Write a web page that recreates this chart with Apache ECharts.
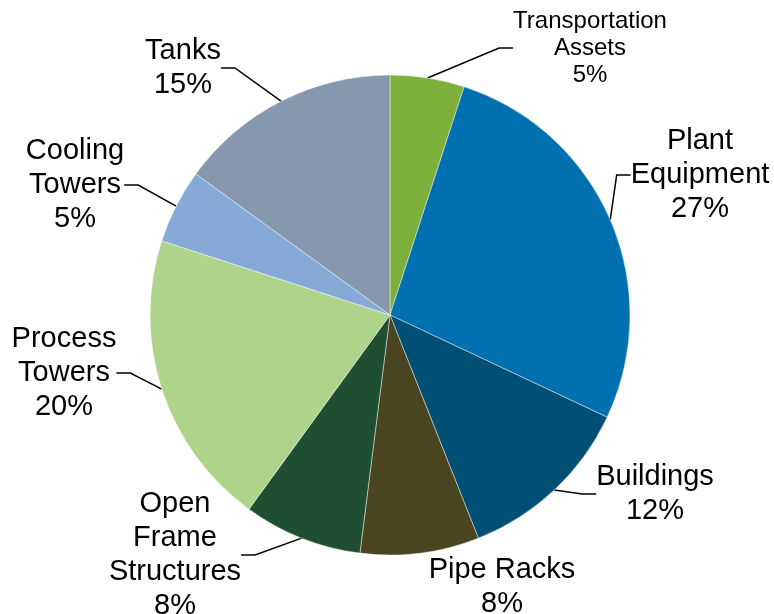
<!DOCTYPE html>
<html>
<head>
<meta charset="utf-8">
<script src="https://cdn.jsdelivr.net/npm/echarts@6/dist/echarts.min.js"></script>
<style>
  html, body { margin: 0; padding: 0; background: #fff; }
  #chart { width: 774px; height: 614px; }
</style>
</head>
<body>
<div id="chart"></div>
<script>
// Asset categories, clockwise from 12 o'clock
const categories = [
  'Transportation\nAssets',
  'Plant\nEquipment',
  'Buildings',
  'Pipe Racks',
  'Open\nFrame\nStructures',
  'Process\nTowers',
  'Cooling\nTowers',
  'Tanks'
];
// Share of total, in percent
const shares = [5, 27, 12, 8, 8, 20, 5, 15];

const sliceColors = ['#7db13b', '#0070b0', '#004f74', '#4a4521', '#1f4f31', '#aed48c', '#86aad7', '#8598ad'];

// Centre of each label block, in pixels
const labelSpots = [
  [590, 48], [700, 175], [655, 494], [502, 587],
  [175, 555], [64, 373], [75, 185], [183, 68]
];

const chart = echarts.init(document.getElementById('chart'), null, { renderer: 'canvas' });

chart.setOption({
  animation: false,
  backgroundColor: '#ffffff',
  series: [{
    type: 'pie',
    center: [390, 315],
    radius: 240,
    startAngle: 90,
    clockwise: true,
    avoidLabelOverlap: false,
    data: categories.map((name, i) => {
      const item = {
        name: name,
        value: shares[i],
        itemStyle: { color: sliceColors[i] }
      };
      if (i === 0) item.label = { fontSize: 24, lineHeight: 27 };
      // the Pipe Racks label sits right under its slice, no leader needed
      if (i === 3) item.labelLine = { show: false };
      return item;
    }),
    itemStyle: { borderColor: 'rgba(255,255,255,0.55)', borderWidth: 0.8 },
    label: {
      show: true,
      position: 'outside',
      formatter: p => p.name + '\n' + p.value + '%',
      fontFamily: '"Liberation Sans", Arial, sans-serif',
      fontSize: 29,
      lineHeight: 34,
      color: '#000',
      align: 'center'
    },
    labelLine: {
      show: true,
      length: 12,
      length2: 14,
      lineStyle: { color: '#000', width: 1.5 }
    },
    labelLayout: p => ({
      x: labelSpots[p.dataIndex][0],
      y: labelSpots[p.dataIndex][1],
      align: 'center',
      verticalAlign: 'middle'
    }),
    emphasis: { disabled: true }
  }]
});
</script>
</body>
</html>
